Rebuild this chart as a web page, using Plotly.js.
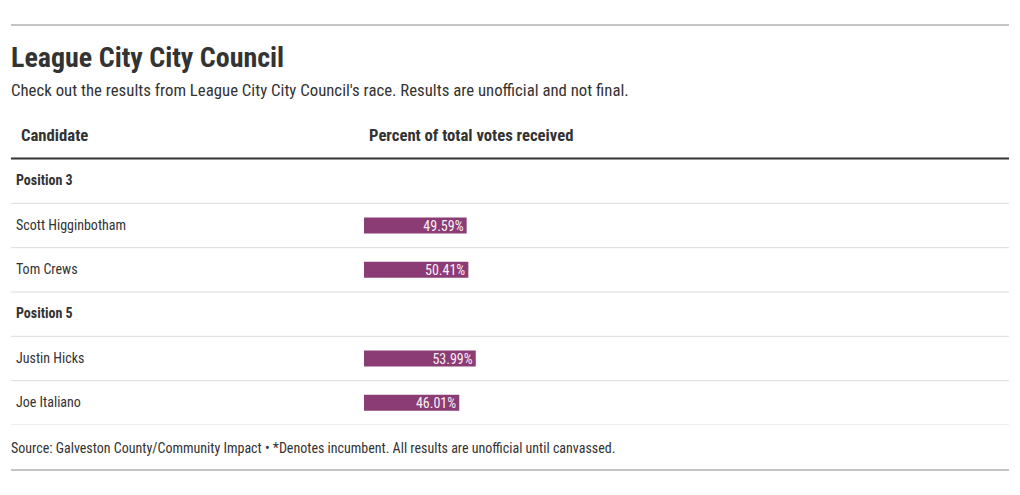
<!DOCTYPE html>
<html>
<head>
<meta charset="utf-8">
<script src="https://cdn.plot.ly/plotly-3.0.1.min.js"></script>
<style>
  html, body { margin: 0; padding: 0; background: #fff; }
  #chart { width: 1020px; height: 495px; }
</style>
</head>
<body>
<div id="chart"></div>
<script>
const titleText = "League City City Council";
const subtitleText = "Check out the results from League City City Council's race. Results are unofficial and not final.";
const colHeaders = ["Candidate", "Percent of total votes received"];
const sourceText = "Source: Galveston County/Community Impact • *Denotes incumbent. All results are unofficial until canvassed.";

const rowLabels = ["Position 3", "Scott Higginbotham", "Tom Crews", "Position 5", "Justin Hicks", "Joe Italiano"];
const rowIsGroup = [true, false, false, true, false, false];
const votePct = [null, 49.59, 50.41, null, 53.99, 46.01];

const FONT = "'Roboto Condensed', 'Liberation Sans Narrow', 'DejaVu Sans Condensed', Roboto, sans-serif";
const W = 1020, H = 495;
const px = v => v / W;
const py = v => (425 - v) / 266;

const trace = {
  type: 'bar',
  orientation: 'h',
  y: rowLabels,
  x: votePct,
  width: 0.36,
  marker: { color: '#8b3c75' },
  text: votePct.map(v => v == null ? '' : v.toFixed(2) + '%'),
  textposition: 'inside',
  insidetextanchor: 'end',
  textfont: { family: FONT, size: 14, color: '#fbf0f7' },
  hoverinfo: 'none',
  cliponaxis: false
};

const shapes = [];
shapes.push({ type: 'line', xref: 'paper', yref: 'paper', x0: px(11), x1: px(1009), y0: py(25), y1: py(25), line: { color: '#8a8a8a', width: 1 } });
shapes.push({ type: 'line', xref: 'paper', yref: 'paper', x0: px(11), x1: px(1009), y0: py(470), y1: py(470), line: { color: '#8a8a8a', width: 1 } });
shapes.push({ type: 'line', xref: 'paper', yref: 'paper', x0: px(11), x1: px(1009), y0: py(158.5), y1: py(158.5), line: { color: '#333333', width: 2 } });
rowLabels.forEach((r, i) => {
  shapes.push({ type: 'line', xref: 'paper', yref: 'y', x0: px(11), x1: px(1009), y0: i + 0.5, y1: i + 0.5, line: { color: '#dcdcdc', width: 1 } });
});

const annotations = [];
annotations.push({ text: titleText, xref: 'paper', yref: 'paper', x: px(9), y: py(57), xanchor: 'left', yanchor: 'middle', showarrow: false, font: { family: FONT, size: 28, color: '#333333', weight: 700 } });
annotations.push({ text: subtitleText, xref: 'paper', yref: 'paper', x: px(9), y: py(90), xanchor: 'left', yanchor: 'middle', showarrow: false, font: { family: FONT, size: 16.8, color: '#333333' } });
annotations.push({ text: colHeaders[0], xref: 'paper', yref: 'paper', x: px(19), y: py(135), xanchor: 'left', yanchor: 'middle', showarrow: false, font: { family: FONT, size: 16.7, color: '#333333', weight: 700 } });
annotations.push({ text: colHeaders[1], xref: 'paper', yref: 'paper', x: px(367), y: py(135), xanchor: 'left', yanchor: 'middle', showarrow: false, font: { family: FONT, size: 16.7, color: '#333333', weight: 700 } });
rowLabels.forEach((r, i) => {
  annotations.push({ text: r, xref: 'paper', yref: 'y', x: px(14), y: r, xanchor: 'left', yanchor: 'middle', yshift: 1, showarrow: false, font: { family: FONT, size: 14, color: '#333333', weight: rowIsGroup[i] ? 700 : 400 } });
});
annotations.push({ text: sourceText, xref: 'paper', yref: 'paper', x: px(9), y: py(448), xanchor: 'left', yanchor: 'middle', showarrow: false, font: { family: FONT, size: 14, color: '#333333' } });

const layout = {
  width: W, height: H,
  margin: { l: 0, r: 0, t: 159, b: 70, pad: 0 },
  paper_bgcolor: '#ffffff', plot_bgcolor: 'rgba(0,0,0,0)',
  showlegend: false,
  uniformtext: { mode: 'show', minsize: 14 },
  xaxis: { domain: [px(364), px(571)], range: [0, 100], showgrid: false, zeroline: false, showticklabels: false, showline: false, ticks: '', fixedrange: true },
  yaxis: { type: 'category', categoryorder: 'array', categoryarray: rowLabels, range: [5.5, -0.5], showgrid: false, zeroline: false, showticklabels: false, showline: false, ticks: '', fixedrange: true },
  shapes: shapes,
  annotations: annotations,
  font: { family: FONT, color: '#333333' }
};

Plotly.newPlot('chart', [trace], layout, { displayModeBar: false, staticPlot: true });
</script>
</body>
</html>
